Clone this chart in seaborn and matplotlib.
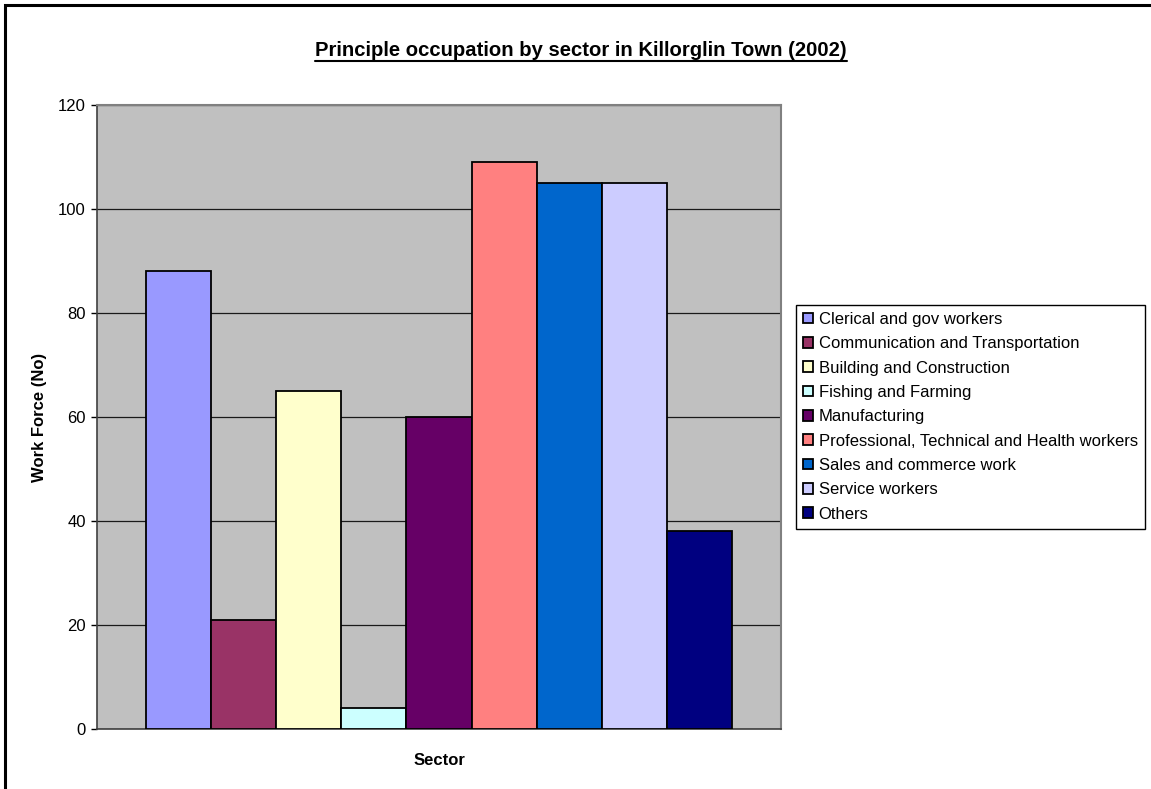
import matplotlib
matplotlib.use("Agg")
import matplotlib.pyplot as plt
from matplotlib.lines import Line2D
from matplotlib.patches import Rectangle
import seaborn as sns
import pandas as pd

# Workforce by principal occupation, Killorglin Town, 2002
sectors = [
    "Clerical and gov workers",
    "Communication and Transportation",
    "Building and Construction",
    "Fishing and Farming",
    "Manufacturing",
    "Professional, Technical and Health workers",
    "Sales and commerce work",
    "Service workers",
    "Others",
]
workers = [88, 21, 65, 4, 60, 109, 105, 105, 38]
colors = ["#9999FF", "#993366", "#FFFFCC", "#CCFFFF", "#660066",
          "#FF8080", "#0066CC", "#CCCCFF", "#000080"]
y_ticks = [0, 20, 40, 60, 80, 100, 120]

df = pd.DataFrame({"group": ["Sector"] * len(sectors),
                   "sector": sectors, "workers": workers})

sns.set_style("white")
plt.rcParams["font.family"] = ["Liberation Sans", "DejaVu Sans"]
plt.rcParams["text.color"] = "black"
plt.rcParams["axes.labelcolor"] = "black"
plt.rcParams["xtick.color"] = "black"
plt.rcParams["ytick.color"] = "black"

W, H = 1151, 789
fig = plt.figure(figsize=(W / 100, H / 100), dpi=100)
ax = fig.add_axes([97 / W, 1 - 729 / H, (781 - 97) / W, (729 - 105) / H])
ax.set_facecolor("#C0C0C0")

sns.barplot(data=df, x="group", y="workers", hue="sector",
            hue_order=sectors, palette=colors, width=0.858,
            edgecolor="black", linewidth=1.3, saturation=1,
            ax=ax, zorder=3)

ax.set_xlim(-0.5, 0.5)
ax.set_ylim(0, 120)
ax.set_yticks(y_ticks)
ax.set_yticklabels([str(t) for t in y_ticks], fontsize=12, color="black")
ax.set_xticks([])
ax.yaxis.grid(True, color="#1a1a1a", linewidth=0.9, zorder=0)
ax.set_axisbelow(True)
ax.tick_params(axis="y", direction="out", length=4, width=1,
               color="black", pad=4, left=True)

for side in ["top", "right"]:
    ax.spines[side].set_color("#808080")
    ax.spines[side].set_linewidth(1.5)
for side in ["left", "bottom"]:
    ax.spines[side].set_color("#404040")
    ax.spines[side].set_linewidth(1.2)

ax.set_xlabel("Sector", fontsize=12, fontweight="bold", labelpad=17,
              color="black")
ax.set_ylabel("Work Force (No)", fontsize=12, fontweight="bold",
              labelpad=8, color="black")

handles, labels = ax.get_legend_handles_labels()
if ax.get_legend() is not None:
    ax.get_legend().remove()
leg = fig.legend(handles, labels, loc="upper left",
                 bbox_to_anchor=(796 / W, 1 - 305 / H),
                 bbox_transform=fig.transFigure, borderaxespad=0,
                 fontsize=12, frameon=True, fancybox=False,
                 edgecolor="black", framealpha=1,
                 handlelength=0.6, handleheight=0.6,
                 handletextpad=0.33, labelspacing=0.56,
                 borderpad=0.42)
leg.get_frame().set_linewidth(1.0)

# Title with underline
title = fig.text(581 / W, 1 - 50 / H,
                 "Principle occupation by sector in Killorglin Town (2002)",
                 ha="center", va="center", fontsize=14.6, fontweight="bold",
                 color="black")
fig.canvas.draw()
bb = title.get_window_extent(fig.canvas.get_renderer())
uy = (bb.y0 - 1) / H
fig.add_artist(Line2D([bb.x0 / W, bb.x1 / W], [uy, uy],
                      transform=fig.transFigure, color="black",
                      linewidth=1.5))

# Chart frame, running off the right and bottom edges
top = 1 - 5 / H
fig.add_artist(Rectangle((5 / W, -0.2), 1.2, top + 0.2,
                         transform=fig.transFigure, fill=False,
                         edgecolor="black", linewidth=2.2))

fig.savefig("out.png", dpi=100)
